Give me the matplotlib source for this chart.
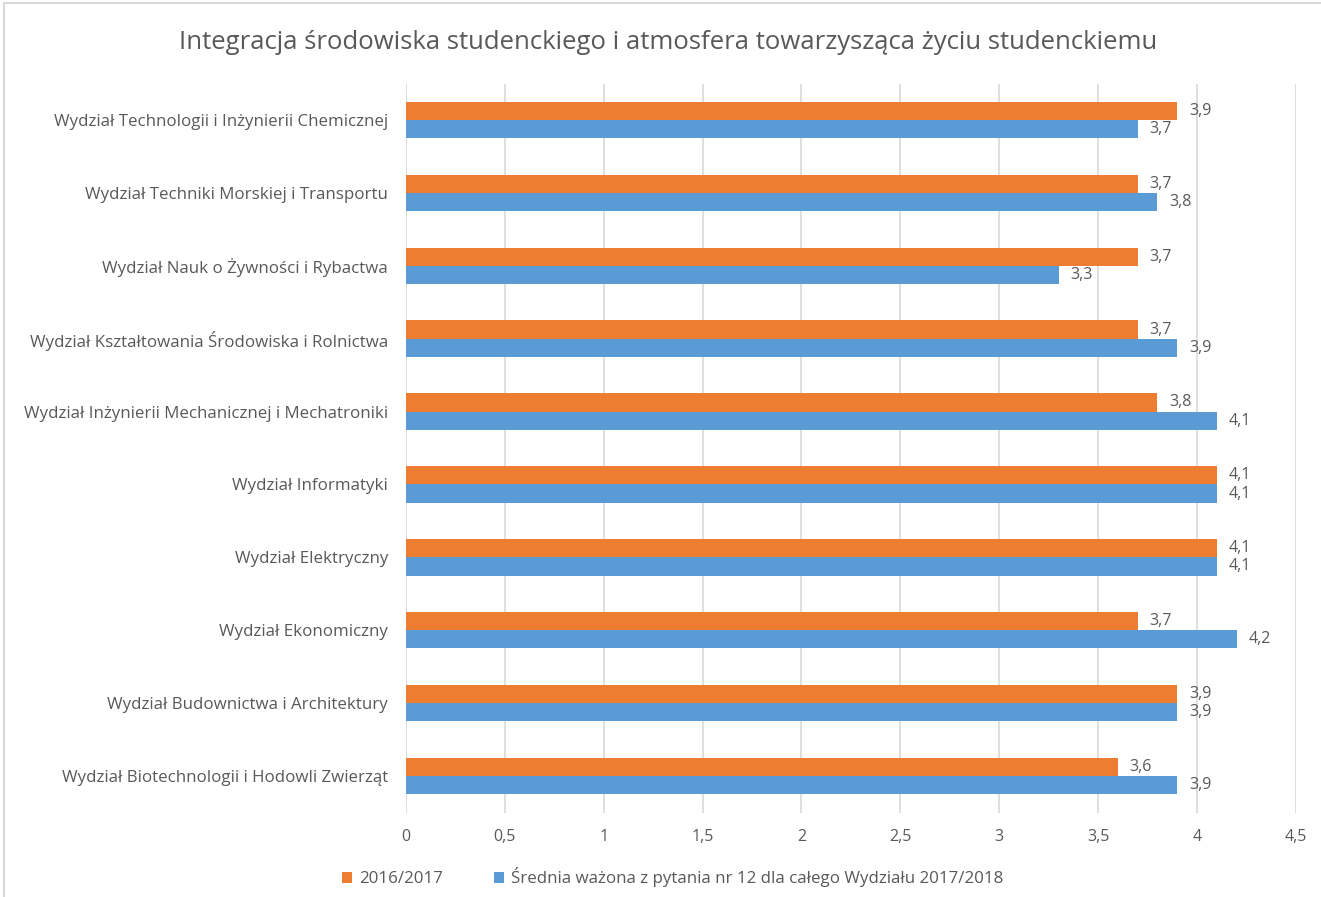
import matplotlib.pyplot as plt
from matplotlib.patches import Rectangle
import numpy as np

plt.rcParams['font.family'] = ['Open Sans', 'DejaVu Sans']

categories = [
    "Wydział Technologii i Inżynierii Chemicznej",
    "Wydział Techniki Morskiej i Transportu",
    "Wydział Nauk o Żywności i Rybactwa",
    "Wydział Kształtowania Środowiska i Rolnictwa",
    "Wydział Inżynierii Mechanicznej i Mechatroniki",
    "Wydział Informatyki",
    "Wydział Elektryczny",
    "Wydział Ekonomiczny",
    "Wydział Budownictwa i Architektury",
    "Wydział Biotechnologii i Hodowli Zwierząt",
]
values_2016 = [3.9, 3.7, 3.7, 3.7, 3.8, 4.1, 4.1, 3.7, 3.9, 3.6]
values_2018 = [3.7, 3.8, 3.3, 3.9, 4.1, 4.1, 4.1, 4.2, 3.9, 3.9]
series_labels = ["2016/2017", "Średnia ważona z pytania nr 12 dla całego Wydziału 2017/2018"]
xticks = [0, 0.5, 1, 1.5, 2, 2.5, 3, 3.5, 4, 4.5]

orange = '#ED7D31'
blue = '#5B9BD5'
text_gray = '#595959'

fig = plt.figure(figsize=(13.21, 8.97), dpi=100)
ax = fig.add_axes([0.3073, 0.0942, 0.6737, 0.8127])

y = np.arange(len(categories))
h = 0.25
ax.barh(y - h / 2, values_2016, height=h, color=orange, label=series_labels[0], zorder=3)
ax.barh(y + h / 2, values_2018, height=h, color=blue, label=series_labels[1], zorder=3)

for yi, v in zip(y, values_2016):
    ax.text(v + 0.06, yi - h / 2, f"{v:.1f}".replace('.', ','), va='center', ha='left',
            fontsize=11.5, color=text_gray)
for yi, v in zip(y, values_2018):
    ax.text(v + 0.06, yi + h / 2, f"{v:.1f}".replace('.', ','), va='center', ha='left',
            fontsize=11.5, color=text_gray)

ax.set_ylim(len(categories) - 0.5, -0.5)
ax.set_xlim(0, 4.5)
ax.set_yticks(y)
ax.set_yticklabels(categories, fontsize=12.2, color=text_gray)
ax.set_xticks(xticks)
ax.set_xticklabels([f"{t:g}".replace('.', ',') for t in xticks], fontsize=11.5, color=text_gray)
ax.tick_params(axis='y', length=0, pad=13)
ax.tick_params(axis='x', length=0, pad=12)
ax.grid(axis='x', color='#D9D9D9', linewidth=1.2, zorder=0)
for s in ax.spines.values():
    s.set_visible(False)

fig.text(0.506, 0.953, "Integracja środowiska studenckiego i atmosfera towarzysząca życiu studenckiemu",
         ha='center', va='center', fontsize=18.5, color=text_gray)

fig.legend(loc='center', bbox_to_anchor=(0.509, 0.022), ncol=2, frameon=False,
           fontsize=12.2, handlelength=0.6, handleheight=0.6, handletextpad=0.4,
           columnspacing=3.0, labelcolor=text_gray)

fig.add_artist(Rectangle((0.003, -0.1), 1.2, 1.097, transform=fig.transFigure,
                         fill=False, edgecolor='#D9D9D9', linewidth=1.5))

fig.savefig('out.png', dpi=100)
